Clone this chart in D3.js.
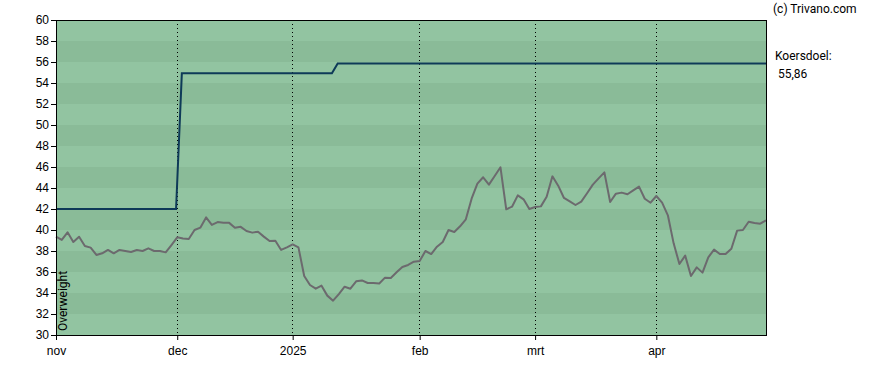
<!DOCTYPE html>
<html>
<head>
<meta charset="utf-8">
<script src="https://cdn.jsdelivr.net/npm/d3@7"></script>
<style>
  body { margin: 0; background: #fff; }
  svg { display: block; font-family: Roboto, "Liberation Sans", Arial, sans-serif; }
  .axis text { font-size: 12px; fill: #000; }
  .axis path, .axis line { stroke: #000; }
</style>
</head>
<body>
<div class="chart"></div>
<script>
// Koers vs koersdoel, trading days from 1 nov 2024

// month tick labels and trading-day index where each month starts
var monthLabels = ["nov", "dec", "2025", "feb", "mrt", "apr"];
var monthIndex = [0, 21, 41, 63, 83, 104];

// closing price, one value per trading day
var price = [
  39.36, 39.05, 39.78, 38.86, 39.36, 38.48, 38.32, 37.62, 37.78, 38.1,
  37.78, 38.1, 38.0, 37.9, 38.1, 38.0, 38.25, 38.0, 38.0, 37.87,
  38.57, 39.3, 39.2, 39.15, 40.0, 40.22, 41.2, 40.48, 40.76, 40.7,
  40.68, 40.22, 40.3, 39.9, 39.75, 39.84, 39.37, 38.95, 38.97, 38.1,
  38.35, 38.63, 38.35, 35.62, 34.76, 34.41, 34.7, 33.75, 33.27, 33.9,
  34.6, 34.41, 35.11, 35.2, 34.95, 34.95, 34.9, 35.46, 35.43, 35.97,
  36.48, 36.67, 36.98, 37.05, 38.0, 37.71, 38.41, 38.86, 40.0, 39.81,
  40.35, 41.02, 42.98, 44.41, 45.02, 44.32, 45.14, 45.97, 41.97, 42.22,
  43.3, 42.92, 42.0, 42.19, 42.25, 43.17, 45.11, 44.22, 43.05, 42.73,
  42.38, 42.7, 43.5, 44.32, 44.92, 45.49, 42.67, 43.46, 43.56, 43.4,
  43.78, 44.13, 42.98, 42.6, 43.24, 42.6, 41.4, 38.73, 36.76, 37.56,
  35.62, 36.44, 35.94, 37.4, 38.13, 37.71, 37.71, 38.22, 39.94, 40.0,
  40.79, 40.67, 40.6, 40.92
];

// koersdoel (price target) change points
var targetIndex = [0, 20.8, 21.8, 47.8, 48.8, 123];
var targetValue = [42, 42, 54.92, 54.92, 55.86, 55.86];

var yTicks = d3.range(30, 61, 2);

var svgWidth = 888;
var svgHeight = 370;
var margin = { top: 20, right: 122, bottom: 35, left: 56 };
var width = svgWidth - margin.left - margin.right;
var height = svgHeight - margin.top - margin.bottom;

var svg = d3.select(".chart")
  .append("svg")
  .attr("width", svgWidth)
  .attr("height", svgHeight);

var chartGroup = svg.append("g")
  .attr("transform", `translate(${margin.left}, ${margin.top})`);

var xScale = d3.scaleLinear().domain([0, price.length - 1]).range([0, width]);
var yScale = d3.scaleLinear().domain([30, 60]).range([height, 0]);

// alternating background bands, 2 units each
var bands = d3.range(30, 60, 2);
chartGroup.selectAll("rect.band")
  .data(bands)
  .enter()
  .append("rect")
  .attr("class", "band")
  .attr("x", 0)
  .attr("width", width)
  .attr("y", d => yScale(d + 2))
  .attr("height", d => yScale(d) - yScale(d + 2))
  .attr("fill", d => (d % 4 === 0) ? "#8abb98" : "#92c4a1");

// dotted month lines
chartGroup.selectAll("line.month")
  .data(monthIndex.slice(1))
  .enter()
  .append("line")
  .attr("class", "month")
  .attr("x1", d => Math.floor(xScale(d)) + 0.5)
  .attr("x2", d => Math.floor(xScale(d)) + 0.5)
  .attr("y1", 0)
  .attr("y2", height)
  .attr("stroke", "#000")
  .attr("stroke-width", 1)
  .attr("stroke-dasharray", "1,3");

// axes
var leftAxis = d3.axisLeft(yScale).tickValues(yTicks).tickSize(5).tickPadding(2);
var bottomAxis = d3.axisBottom(xScale)
  .tickValues(monthIndex)
  .tickFormat((d, i) => monthLabels[i])
  .tickSize(5)
  .tickPadding(6);

chartGroup.append("g")
  .attr("class", "axis")
  .call(leftAxis)
  .call(g => g.select(".domain").remove());

chartGroup.append("g")
  .attr("class", "axis")
  .attr("transform", `translate(0, ${height})`)
  .call(bottomAxis)
  .call(g => g.select(".domain").remove());

// target line
var targetLine = d3.line()
  .x((d, i) => xScale(targetIndex[i]))
  .y(d => yScale(d));

chartGroup.append("path")
  .datum(targetValue)
  .attr("d", targetLine)
  .attr("fill", "none")
  .attr("stroke", "#0e3a58")
  .attr("stroke-width", 2);

// price line
var priceLine = d3.line()
  .x((d, i) => xScale(i))
  .y(d => yScale(d));

chartGroup.append("path")
  .datum(price)
  .attr("d", priceLine)
  .attr("fill", "none")
  .attr("stroke", "#6c6a6e")
  .attr("stroke-width", 2)
  .attr("stroke-linejoin", "round");

// frame
chartGroup.append("rect")
  .attr("x", 0.5)
  .attr("y", 0.5)
  .attr("width", width)
  .attr("height", height)
  .attr("fill", "none")
  .attr("stroke", "#000");

// rating label
chartGroup.append("text")
  .attr("transform", `translate(11, ${height - 4}) rotate(-90)`)
  .style("font-size", "12px")
  .text("Overweight");

// right side texts
svg.append("text")
  .attr("x", 773)
  .attr("y", 13)
  .style("font-size", "12px")
  .text("(c) Trivano.com");

svg.append("text")
  .attr("x", 775)
  .attr("y", 60)
  .style("font-size", "12px")
  .text("Koersdoel:");

svg.append("text")
  .attr("x", 778)
  .attr("y", 78)
  .style("font-size", "12px")
  .text("55,86");
</script>
</body>
</html>
